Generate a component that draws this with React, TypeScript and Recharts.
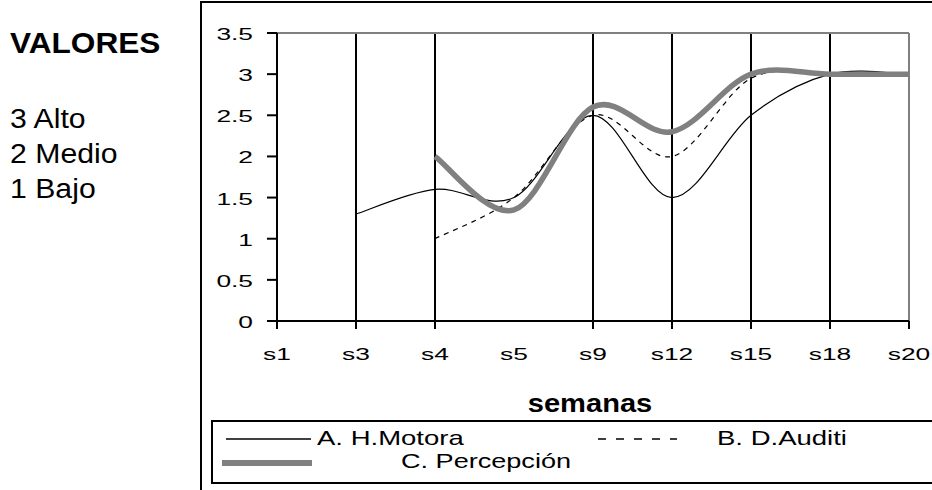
import React from 'react';
import { LineChart, Line, XAxis, YAxis, ReferenceLine } from 'recharts';

// ---- data ----
const weeks = ['s1', 's3', 's4', 's5', 's9', 's12', 's15', 's18', 's20'];
const motora = [null, 1.3, 1.6, 1.5, 2.5, 1.5, 2.5, 3.0, 3.0];
const auditiva = [null, null, 1.0, 1.5, 2.5, 2.0, 2.95, 3.0, 3.0];
const percepcion = [null, null, 2.0, 1.35, 2.6, 2.3, 3.0, 3.0, 3.0];
const yTicks = [0, 0.5, 1, 1.5, 2, 2.5, 3, 3.5];
const gridWeeks = ['s3', 's4', 's9', 's12', 's15', 's18'];
const tickedWeeks = ['s1', 's3', 's4', 's9', 's12', 's15', 's18', 's20'];
const seriesNames = ['A. H.Motora', 'B. D.Auditi', 'C. Percepción'];
const xTitle = 'semanas';
const sideTitle = 'VALORES';
const sideLines = ['3 Alto', '2 Medio', '1 Bajo'];

const data = weeks.map((w, i) => ({
  week: w,
  motora: motora[i],
  auditiva: auditiva[i],
  percepcion: percepcion[i],
}));

const FONT = '"Liberation Sans", Arial, sans-serif';
const GRAY = '#808080';

// Excel-like smoothed line (Catmull-Rom through points)
const excelSmooth: any = (context: any) => {
  let pts: number[][] = [];
  return {
    areaStart() {},
    areaEnd() {},
    lineStart() {
      pts = [];
    },
    point(x: number, y: number) {
      pts.push([+x, +y]);
    },
    lineEnd() {
      const n = pts.length;
      if (!n) return;
      context.moveTo(pts[0][0], pts[0][1]);
      if (n === 1) {
        context.lineTo(pts[0][0], pts[0][1]);
        return;
      }
      for (let i = 0; i < n - 1; i++) {
        const p0 = pts[Math.max(i - 1, 0)];
        const p1 = pts[i];
        const p2 = pts[i + 1];
        const p3 = pts[Math.min(i + 2, n - 1)];
        context.bezierCurveTo(
          p1[0] + (p2[0] - p0[0]) / 6,
          p1[1] + (p2[1] - p0[1]) / 6,
          p2[0] - (p3[0] - p1[0]) / 6,
          p2[1] - (p3[1] - p1[1]) / 6,
          p2[0],
          p2[1]
        );
      }
    },
  };
};

const XTick = (props: any) => {
  const { x, y, payload } = props;
  const axisY = y - 10;
  return (
    <g>
      {tickedWeeks.includes(payload.value) && (
        <line x1={x} y1={axisY} x2={x} y2={axisY + 8} stroke="#000" strokeWidth={2} />
      )}
      <text
        transform={`translate(${x},${axisY + 39}) scale(1.55,1)`}
        textAnchor="middle"
        fontFamily={FONT}
        fontSize={17}
        fill="#000"
      >
        {payload.value}
      </text>
    </g>
  );
};

const YTick = (props: any) => {
  const { x, y, payload } = props;
  return (
    <text
      transform={`translate(${x},${y + 7}) scale(1.55,1)`}
      textAnchor="end"
      fontFamily={FONT}
      fontSize={17}
      fill="#000"
    >
      {payload.value}
    </text>
  );
};

const XTitle = (props: any) => {
  const { viewBox } = props;
  const cx = viewBox.x + viewBox.width / 2 - 3;
  return (
    <text
      transform={`translate(${cx},412) scale(1.12,1)`}
      textAnchor="middle"
      fontFamily={FONT}
      fontWeight="bold"
      fontSize={26}
      fill="#000"
    >
      {xTitle}
    </text>
  );
};

export default function App() {
  return (
    <div style={{ position: 'absolute', left: 0, top: 0, width: 932, height: 490, background: '#fff', overflow: 'hidden' }}>
      <div style={{ position: 'absolute', left: 0, top: 0 }}>
        <LineChart
          width={932}
          height={490}
          data={data}
          margin={{ top: 33, right: 23, bottom: 129, left: 217 }}
        >
          <XAxis
            dataKey="week"
            interval={0}
            height={40}
            tickLine={false}
            tickSize={8}
            tickMargin={2}
            axisLine={{ stroke: '#000', strokeWidth: 2 }}
            tick={<XTick />}
            label={<XTitle />}
          />
          <YAxis
            domain={[0, 3.5]}
            ticks={yTicks}
            interval={0}
            width={60}
            tickSize={10}
            tickMargin={14}
            tickLine={{ stroke: '#000', strokeWidth: 2 }}
            axisLine={{ stroke: '#000', strokeWidth: 2 }}
            tick={<YTick />}
          />
          {gridWeeks.map((w) => (
            <ReferenceLine key={w} x={w} stroke="#000" strokeWidth={2} />
          ))}
          <ReferenceLine y={3.5} stroke={GRAY} strokeWidth={2} />
          <ReferenceLine x={weeks[weeks.length - 1]} stroke={GRAY} strokeWidth={2} />
          <Line
            dataKey="motora"
            name={seriesNames[0]}
            type={excelSmooth}
            stroke="#000"
            strokeWidth={1.2}
            dot={false}
            activeDot={false}
            isAnimationActive={false}
          />
          <Line
            dataKey="auditiva"
            name={seriesNames[1]}
            type={excelSmooth}
            stroke="#000"
            strokeWidth={1.2}
            strokeDasharray="5 5"
            dot={false}
            activeDot={false}
            isAnimationActive={false}
          />
          <Line
            dataKey="percepcion"
            name={seriesNames[2]}
            type={excelSmooth}
            stroke={GRAY}
            strokeWidth={5.5}
            dot={false}
            activeDot={false}
            isAnimationActive={false}
          />
        </LineChart>
      </div>
      <svg
        width={932}
        height={490}
        style={{ position: 'absolute', left: 0, top: 0, pointerEvents: 'none' }}
      >
        {/* outer chart frame */}
        <line x1={201} y1={1} x2={201} y2={490} stroke="#000" strokeWidth={2} />
        <line x1={200} y1={2} x2={932} y2={2} stroke="#000" strokeWidth={2} />
        {/* legend box */}
        <line x1={211} y1={421} x2={932} y2={421} stroke="#000" strokeWidth={2} />
        <line x1={211} y1={483} x2={932} y2={483} stroke="#000" strokeWidth={2} />
        <line x1={212} y1={420} x2={212} y2={484} stroke="#000" strokeWidth={2} />
        {/* legend entries */}
        <line x1={226} y1={439} x2={311} y2={439} stroke="#000" strokeWidth={1.5} />
        <text transform="translate(317,445) scale(1.31,1)" fontFamily={FONT} fontSize={21} fill="#000">
          {seriesNames[0]}
        </text>
        <line x1={598} y1={439} x2={677} y2={439} stroke="#000" strokeWidth={1.5} strokeDasharray="8 10" />
        <text transform="translate(717,445) scale(1.31,1)" fontFamily={FONT} fontSize={21} fill="#000">
          {seriesNames[1]}
        </text>
        <line x1={222} y1={463} x2={312} y2={463} stroke={GRAY} strokeWidth={6} />
        <text transform="translate(401,468) scale(1.29,1)" fontFamily={FONT} fontSize={21} fill="#000">
          {seriesNames[2]}
        </text>
        {/* side text */}
        <text transform="translate(10,53) scale(1.09,1)" fontFamily={FONT} fontWeight="bold" fontSize={29} fill="#000">
          {sideTitle}
        </text>
        {sideLines.map((t, i) => (
          <text
            key={t}
            transform={`translate(10,${128 + i * 35}) scale(1.12,1)`}
            fontFamily={FONT}
            fontSize={27}
            fill="#000"
          >
            {t}
          </text>
        ))}
      </svg>
    </div>
  );
}
